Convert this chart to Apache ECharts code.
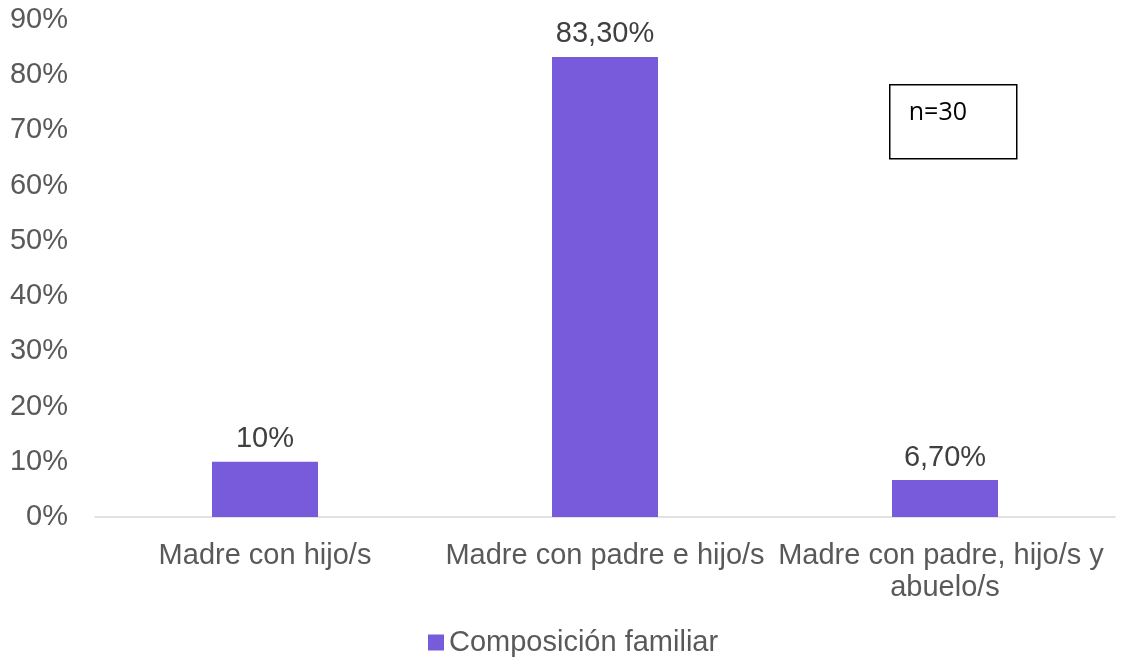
<!DOCTYPE html>
<html>
<head>
<meta charset="utf-8">
<script src="https://cdn.jsdelivr.net/npm/echarts@6/dist/echarts.min.js"></script>
<style>
html,body{margin:0;padding:0;background:#fff;}
#chart{width:1125px;height:659px;}
</style>
</head>
<body>
<div id="chart"></div>
<script>
const categories = ['Madre con hijo/s', 'Madre con padre e hijo/s', 'Madre con padre, hijo/s y abuelo/s'];
const values = [10, 83.3, 6.7];
const valueLabels = ['10%', '83,30%', '6,70%'];
const seriesName = 'Composición familiar';
const yTicks = [0, 10, 20, 30, 40, 50, 60, 70, 80, 90];
const note = 'n=30';

const chart = echarts.init(document.getElementById('chart'));
chart.setOption({
  animation: false,
  backgroundColor: '#ffffff',
  textStyle: { fontFamily: 'Liberation Sans, Arial, sans-serif' },
  grid: { left: 95, right: 10, top: 20, bottom: 142, containLabel: false },
  legend: {
    top: 623,
    left: 423,
    icon: 'rect',
    itemWidth: 16,
    itemHeight: 16,
    itemGap: 4,
    textStyle: { fontSize: 29, color: '#595959', fontFamily: 'Liberation Sans, Arial, sans-serif' },
    data: [seriesName]
  },
  xAxis: {
    type: 'category',
    data: categories,
    axisLine: { lineStyle: { color: '#d9d9d9', width: 1.5 } },
    axisTick: { show: false },
    axisLabel: {
      fontSize: 29,
      color: '#595959',
      margin: 23,
      lineHeight: 32,
      width: 338,
      overflow: 'break',
      interval: 0
    }
  },
  yAxis: {
    type: 'value',
    min: yTicks[0],
    max: yTicks[yTicks.length - 1],
    interval: 10,
    axisLine: { show: false },
    axisTick: { show: false },
    splitLine: { show: false },
    axisLabel: {
      fontSize: 29,
      color: '#595959',
      margin: 27,
      formatter: v => v + '%'
    }
  },
  series: [{
    name: seriesName,
    type: 'bar',
    data: values,
    barWidth: 106,
    itemStyle: { color: '#775BDB' },
    label: {
      show: true,
      position: 'top',
      distance: 8,
      fontSize: 29,
      color: '#404040',
      formatter: p => valueLabels[p.dataIndex]
    }
  }],
  graphic: [{
    type: 'group',
    left: 889,
    top: 84,
    children: [{
      type: 'rect',
      shape: { x: 0, y: 0, width: 127, height: 74 },
      style: { fill: '#ffffff', stroke: '#000000', lineWidth: 1.5 }
    }, {
      type: 'text',
      x: 19,
      y: 16,
      style: { text: note, fontSize: 25, fill: '#000000', fontFamily: 'Open Sans, Noto Sans, sans-serif' }
    }]
  }]
});
</script>
</body>
</html>
